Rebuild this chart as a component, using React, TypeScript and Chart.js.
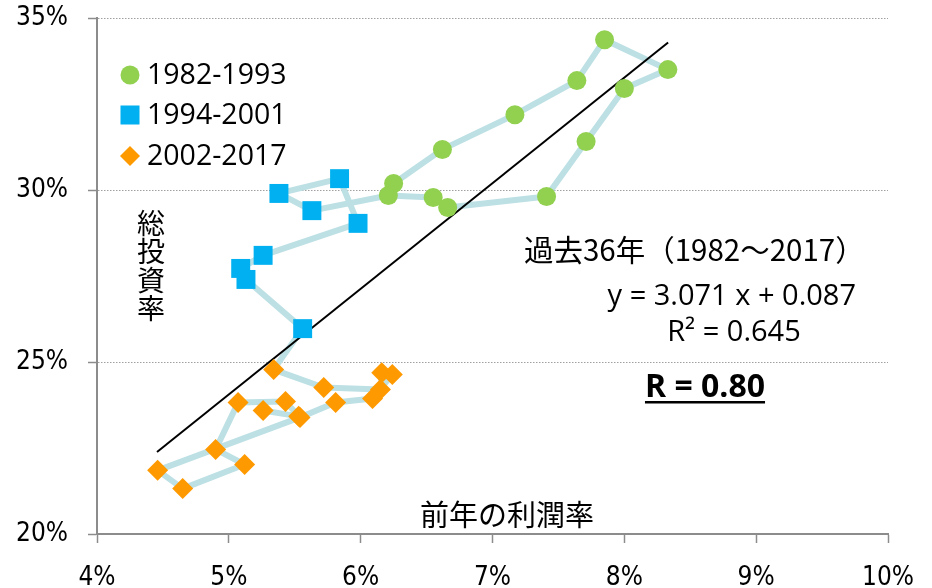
import React, { useEffect, useRef } from 'react';
import { Chart, registerables } from 'chart.js';

Chart.register(...registerables);

// 前年の利潤率 (%) and 総投資率 (%), in chronological order
const profitGreen = [6.25, 6.62, 7.17, 7.64, 7.85, 8.33, 8.0, 7.71, 7.41, 6.66, 6.55, 6.21];
const investGreen = [30.19, 31.18, 32.19, 33.18, 34.37, 33.5, 32.95, 31.41, 29.81, 29.49, 29.78, 29.84];
const profitBlue = [5.63, 5.38, 5.84, 5.98, 5.26, 5.09, 5.13, 5.56];
const investBlue = [29.4, 29.9, 30.33, 29.03, 28.1, 27.72, 27.4, 25.97];
const profitOrange = [5.34, 5.72, 6.15, 6.16, 6.24, 6.09, 5.81, 5.54, 4.46, 4.65, 5.12, 4.9, 5.07, 5.43, 5.53, 5.26];
const investOrange = [24.78, 24.26, 24.2, 24.69, 24.64, 23.94, 23.82, 23.39, 21.85, 21.32, 22.02, 22.46, 23.82, 23.85, 23.42, 23.59];

const seriesLabels = ['1982-1993', '1994-2001', '2002-2017'];
const seriesColors = ['#92D050', '#00B0F0', '#FF9900'];
const connectorColor = '#BDE0E4';

// regression (fraction units): y = 3.071 x + 0.087
const trendSlope = 3.071;
const trendIntercept = 0.087;
const trendX = [4.455, 8.332];

const xTicks = [4, 5, 6, 7, 8, 9, 10];
const yTicks = [20, 25, 30, 35];

const titleText = '過去36年（1982〜2017）';
const eqText = 'y = 3.071 x + 0.087';
const r2Text = 'R² = 0.645';
const rText = 'R = 0.80';
const yTitle = '総投資率';
const xTitle = '前年の利潤率';

const pts = (xs: number[], ys: number[]) => xs.map((x, i) => ({ x, y: ys[i] }));

const TICK_FONT = "'Liberation Sans Narrow', 'DejaVu Sans Condensed', sans-serif";
const SANS = "'Open Sans', 'Noto Sans', sans-serif";
const CJK = "'Noto Sans CJK JP', 'Noto Sans CJK SC', sans-serif";

const overlay = {
  id: 'overlay',
  afterDraw(chart: any) {
    const ctx: CanvasRenderingContext2D = chart.ctx;
    ctx.save();
    // legend
    const lx = 130;
    const ly = [75, 115, 156];
    ctx.fillStyle = seriesColors[0];
    ctx.beginPath();
    ctx.arc(lx, ly[0], 9.5, 0, Math.PI * 2);
    ctx.fill();
    ctx.fillStyle = seriesColors[1];
    ctx.fillRect(lx - 9.5, ly[1] - 9.5, 19, 19);
    ctx.fillStyle = seriesColors[2];
    ctx.beginPath();
    ctx.moveTo(lx, ly[2] - 10);
    ctx.lineTo(lx + 10, ly[2]);
    ctx.lineTo(lx, ly[2] + 10);
    ctx.lineTo(lx - 10, ly[2]);
    ctx.closePath();
    ctx.fill();
    ctx.fillStyle = '#000';
    ctx.font = `28.5px ${SANS}`;
    ctx.textAlign = 'left';
    ctx.textBaseline = 'middle';
    seriesLabels.forEach((t, i) => ctx.fillText(t, 147, ly[i] + 1));

    // annotations
    ctx.font = `29.5px ${CJK}`;
    ctx.textAlign = 'left';
    ctx.fillText(titleText, 524, 250);
    ctx.font = `29px ${SANS}`;
    ctx.textAlign = 'right';
    ctx.fillText(eqText, 856, 297);
    ctx.textAlign = 'center';
    ctx.fillText(r2Text, 734, 333);
    ctx.font = `bold 32px ${SANS}`;
    ctx.fillText(rText, 705, 388);
    const w = ctx.measureText(rText).width;
    ctx.fillRect(705 - w / 2, 401, w, 2.5);

    // axis titles
    ctx.font = `28px ${CJK}`;
    ctx.textAlign = 'center';
    Array.from(yTitle).forEach((c, i) => ctx.fillText(c, 151, 223 + i * 28.5));
    ctx.font = `29px ${CJK}`;
    ctx.fillText(xTitle, 507, 515);
    ctx.restore();
  },
};

export default function App() {
  const ref = useRef<HTMLCanvasElement>(null);
  useEffect(() => {
    const allPts = [
      ...pts(profitGreen, investGreen),
      ...pts(profitBlue, investBlue),
      ...pts(profitOrange, investOrange),
    ];
    const trendPts = trendX.map((x) => ({ x, y: trendSlope * x + trendIntercept * 100 }));
    const chart = new Chart(ref.current!, {
      type: 'scatter',
      data: {
        datasets: [
          {
            label: seriesLabels[0],
            data: pts(profitGreen, investGreen),
            pointStyle: 'circle',
            pointRadius: 9.5,
            pointHoverRadius: 9.5,
            backgroundColor: seriesColors[0],
            borderWidth: 0,
          },
          {
            label: seriesLabels[1],
            data: pts(profitBlue, investBlue),
            pointStyle: 'rect',
            pointRadius: 13.4,
            pointHoverRadius: 13.4,
            backgroundColor: seriesColors[1],
            borderWidth: 0,
          },
          {
            label: seriesLabels[2],
            data: pts(profitOrange, investOrange),
            pointStyle: 'rectRot',
            pointRadius: 10.5,
            pointHoverRadius: 10.5,
            backgroundColor: seriesColors[2],
            borderWidth: 0,
          },
          {
            label: 'trend',
            data: trendPts,
            showLine: true,
            pointRadius: 0,
            borderColor: '#000',
            borderWidth: 2,
          },
          {
            label: 'path',
            data: allPts,
            showLine: true,
            pointRadius: 0,
            borderColor: connectorColor,
            borderWidth: 6,
            borderJoinStyle: 'round',
            borderCapStyle: 'round',
          },
        ],
      } as any,
      options: {
        animation: false,
        responsive: true,
        maintainAspectRatio: false,
        layout: { padding: { top: 18, right: 44, bottom: 0, left: 0 } },
        plugins: { legend: { display: false }, tooltip: { enabled: false } },
        scales: {
          x: {
            type: 'linear',
            min: 4,
            max: 10,
            afterBuildTicks: (s: any) => {
              s.ticks = xTicks.map((v) => ({ value: v }));
            },
            afterFit: (s: any) => {
              s.height = 54;
              s.paddingLeft = 0;
              s.paddingRight = 0;
            },
            ticks: {
              callback: (v: any) => `${v}%`,
              font: { family: TICK_FONT, size: 26 },
              color: '#000',
              padding: 20,
              maxRotation: 0,
            },
            grid: {
              drawOnChartArea: false,
              drawTicks: true,
              tickLength: 9,
              tickColor: '#8C8C8C',
              tickWidth: 1.5,
            },
            border: { display: true, color: '#8C8C8C', width: 2 },
          },
          y: {
            type: 'linear',
            min: 20,
            max: 35,
            afterBuildTicks: (s: any) => {
              s.ticks = yTicks.map((v) => ({ value: v }));
            },
            afterFit: (s: any) => {
              s.width = 97;
              s.paddingTop = 0;
              s.paddingBottom = 0;
            },
            ticks: {
              callback: (v: any) => `${v}%`,
              font: { family: TICK_FONT, size: 26 },
              color: '#000',
              padding: 20,
            },
            grid: {
              drawOnChartArea: true,
              color: '#A0A0A0',
              lineWidth: 1,
              drawTicks: true,
              tickLength: 9,
              tickColor: '#8C8C8C',
              tickWidth: 1.5,
            },
            border: { display: true, color: '#8C8C8C', width: 2, dash: [1.5, 1.5] },
          },
        },
      } as any,
      plugins: [overlay],
    });
    return () => chart.destroy();
  }, []);
  return (
    <div style={{ position: 'fixed', left: 0, top: 0, width: 932, height: 588, background: '#fff' }}>
      <canvas ref={ref} />
    </div>
  );
}
